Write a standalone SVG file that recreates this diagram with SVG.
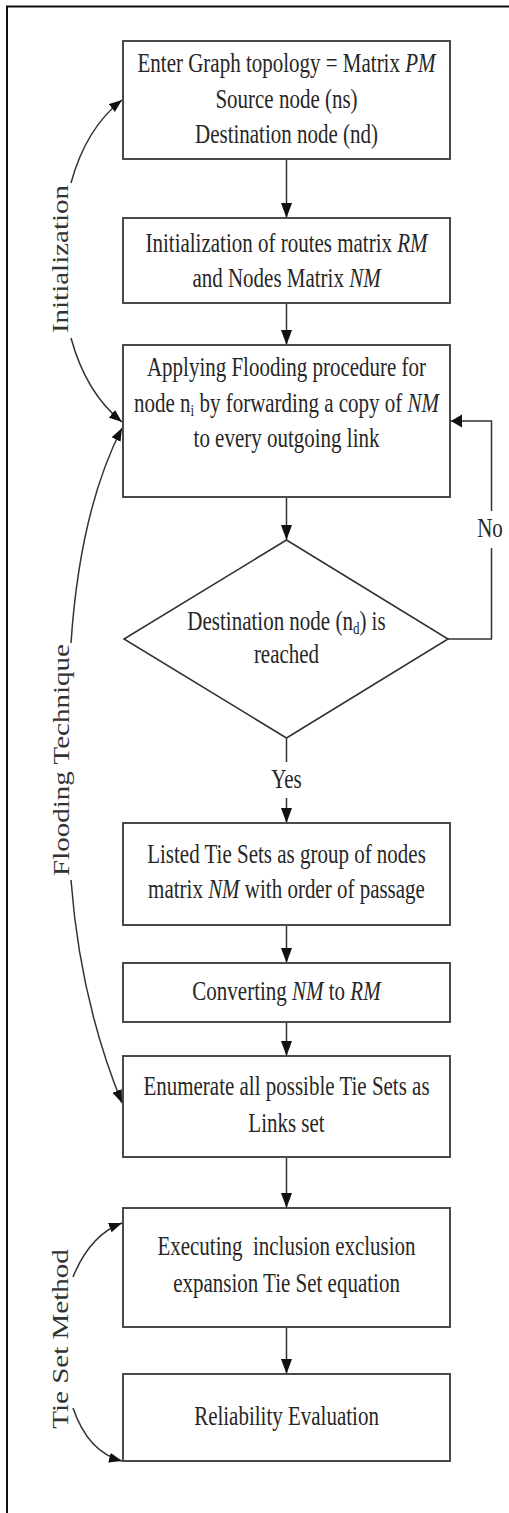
<svg xmlns="http://www.w3.org/2000/svg" width="509" height="1513" viewBox="0 0 509 1513">
  <style>
    .frame { fill: none; stroke: #111; stroke-width: 2; }
    .box { fill: #fff; stroke: #4a4a4a; stroke-width: 2; }
    .diamond { fill: #fff; stroke: #333; stroke-width: 1.6; }
    .link { fill: none; stroke: #333; stroke-width: 1.5; }
    .txt { font-family: "Liberation Serif", "Times New Roman", serif; font-size: 21px; fill: #262626; text-anchor: middle; }
    .side { font-family: "Liberation Serif", "Times New Roman", serif; font-size: 22.5px; fill: #333; text-anchor: middle; }
    .it { font-style: italic; }
  </style>
  <defs>
    <marker id="head" markerUnits="userSpaceOnUse" markerWidth="16" markerHeight="12" refX="15" refY="6" orient="auto">
      <path d="M0,0.5 L15,6 L0,11.5 Z" fill="#111"/>
    </marker>
    <marker id="headSide" markerUnits="userSpaceOnUse" markerWidth="12" markerHeight="14" refX="11" refY="7" orient="auto">
      <path d="M0,0.5 L11,7 L0,13.5 Z" fill="#111"/>
    </marker>
    <marker id="headCurve" markerUnits="userSpaceOnUse" markerWidth="14" markerHeight="11" refX="13" refY="5.5" orient="auto">
      <path d="M0,0.5 L13,5.5 L0,10.5 Z" fill="#111"/>
    </marker>
  </defs>

  <rect width="509" height="1513" fill="#fff"/>
  <!-- page frame (left and top edges) -->
  <path class="frame" d="M7,1513 V6.5 H509"/>

  <!-- flow connectors -->
  <g id="connectors">
    <path class="link" d="M286.5,159 V218" marker-end="url(#head)"/>
    <path class="link" d="M286.5,303 V345" marker-end="url(#head)"/>
    <path class="link" d="M286.5,497 V540" marker-end="url(#head)"/>
    <path class="link" d="M286.5,738 V762"/>
    <path class="link" d="M286.5,798 V823" marker-end="url(#head)"/>
    <path class="link" d="M286.5,925 V963" marker-end="url(#head)"/>
    <path class="link" d="M286.5,1022 V1056" marker-end="url(#head)"/>
    <path class="link" d="M286.5,1157 V1208" marker-end="url(#head)"/>
    <path class="link" d="M286.5,1327 V1374" marker-end="url(#head)"/>
    <!-- "No" loop back to the flooding step -->
    <path class="link" d="M448,639 H491.5 V548"/>
    <path class="link" d="M491.5,511 V421 H451" marker-end="url(#headSide)"/>
    <!-- phase brackets on the left -->
    <path class="link" d="M71,183 Q86,128 122,100" marker-end="url(#headCurve)"/>
    <path class="link" d="M71,338 Q86,393 122,422" marker-end="url(#headCurve)"/>
    <path class="link" d="M71,643 Q80,510 122,428" marker-end="url(#headCurve)"/>
    <path class="link" d="M71,880 Q80,1000 122,1103" marker-end="url(#headCurve)"/>
    <path class="link" d="M73,1277 Q90,1235 122,1223" marker-end="url(#headCurve)"/>
    <path class="link" d="M73,1408 Q88,1452 122,1461" marker-end="url(#headCurve)"/>
  </g>

  <!-- edge labels -->
  <g id="edge-labels">
    <text class="txt" transform="translate(286.5,788) scale(1,1.29)">Yes</text>
    <text class="txt" transform="translate(490,537) scale(1,1.29)">No</text>
  </g>

  <!-- phase labels -->
  <g id="phase-initialization">
    <text class="side" transform="translate(67.5,259) scale(1,1.29) rotate(-90)">Initialization</text>
  </g>
  <g id="phase-flooding">
    <text class="side" transform="translate(69,760) scale(1,1.29) rotate(-90)">Flooding Technique</text>
  </g>
  <g id="phase-tieset">
    <text class="side" transform="translate(67.5,1339) scale(1,1.29) rotate(-90)">Tie Set Method</text>
  </g>

  <g id="node-input">
    <rect class="box" x="123" y="41" width="327" height="118"/>
    <text class="txt" transform="translate(286.5,72) scale(1,1.29)">Enter Graph topology = Matrix <tspan class="it">PM</tspan></text>
    <text class="txt" transform="translate(286.5,108) scale(1,1.29)">Source node (ns)</text>
    <text class="txt" transform="translate(286.5,143) scale(1,1.29)">Destination node (nd)</text>
  </g>

  <g id="node-init">
    <rect class="box" x="123" y="218" width="327" height="85"/>
    <text class="txt" transform="translate(286.5,252) scale(1,1.29)">Initialization of routes matrix <tspan class="it">RM</tspan></text>
    <text class="txt" transform="translate(286.5,287) scale(1,1.29)">and Nodes Matrix <tspan class="it">NM</tspan></text>
  </g>

  <g id="node-flooding">
    <rect class="box" x="123" y="345" width="327" height="152"/>
    <text class="txt" transform="translate(286.5,376) scale(1,1.29)">Applying Flooding procedure for</text>
    <text class="txt" transform="translate(286.5,412) scale(1,1.29)">node n<tspan font-size="13" dy="3">i</tspan><tspan dy="-3"> by forwarding a copy of </tspan><tspan class="it">NM</tspan></text>
    <text class="txt" transform="translate(286.5,447) scale(1,1.29)">to every outgoing link</text>
  </g>

  <g id="node-decision">
    <polygon class="diamond" points="286.5,540 448,639 286.5,738 124,639"/>
    <text class="txt" transform="translate(286.5,630) scale(1,1.29)">Destination node (n<tspan font-size="13" dy="3">d</tspan><tspan dy="-3">) is</tspan></text>
    <text class="txt" transform="translate(286.5,663) scale(1,1.29)">reached</text>
  </g>

  <g id="node-listed">
    <rect class="box" x="123" y="823" width="327" height="102"/>
    <text class="txt" transform="translate(286.5,863) scale(1,1.29)">Listed Tie Sets as group of nodes</text>
    <text class="txt" transform="translate(286.5,898) scale(1,1.29)">matrix <tspan class="it">NM</tspan> with order of passage</text>
  </g>

  <g id="node-convert">
    <rect class="box" x="123" y="963" width="327" height="59"/>
    <text class="txt" transform="translate(286.5,1000) scale(1,1.29)">Converting <tspan class="it">NM</tspan> to <tspan class="it">RM</tspan></text>
  </g>

  <g id="node-enumerate">
    <rect class="box" x="123" y="1056" width="327" height="101"/>
    <text class="txt" transform="translate(286.5,1095) scale(1,1.29)">Enumerate all possible Tie Sets as</text>
    <text class="txt" transform="translate(286.5,1132) scale(1,1.29)">Links set</text>
  </g>

  <g id="node-execute">
    <rect class="box" x="123" y="1208" width="327" height="119"/>
    <text class="txt" style="white-space:pre" transform="translate(286.5,1255) scale(1,1.29)">Executing  inclusion exclusion</text>
    <text class="txt" transform="translate(286.5,1292) scale(1,1.29)">expansion Tie Set equation</text>
  </g>

  <g id="node-reliability">
    <rect class="box" x="123" y="1374" width="327" height="87"/>
    <text class="txt" transform="translate(286.5,1425) scale(1,1.29)">Reliability Evaluation</text>
  </g>
</svg>
